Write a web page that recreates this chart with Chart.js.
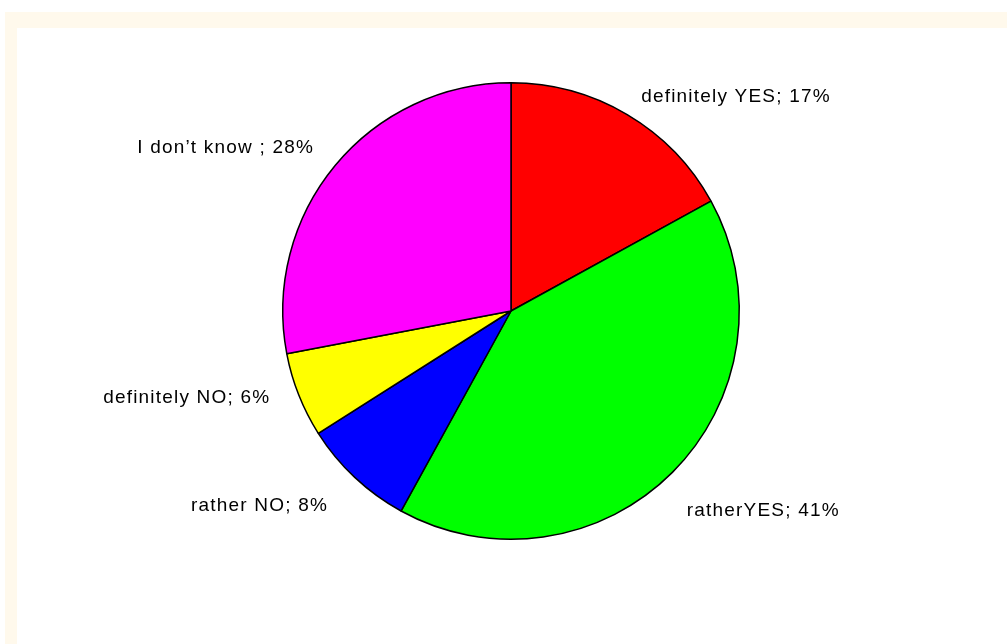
<!DOCTYPE html>
<html>
<head>
<meta charset="utf-8">
<title>Survey answers</title>
<script src="https://cdn.jsdelivr.net/npm/chart.js@4/dist/chart.umd.min.js"></script>
<style>
  html, body { margin: 0; padding: 0; background: #fff; }
  #frame {
    position: absolute; left: 5px; top: 12px; right: 0; bottom: 0;
    background: #fff9ec;
  }
  #inner {
    position: absolute; left: 12px; top: 16px; right: 0; bottom: 0;
    background: #fff;
  }
  #pieChart { position: absolute; left: 0; top: 0; }
</style>
</head>
<body>
<div id="frame"><div id="inner"></div></div>
<canvas id="pieChart" width="1007" height="644"></canvas>
<script>
// Answers and their shares (percent)
const answers = ['definitely YES', 'ratherYES', 'rather NO', 'definitely NO', 'I don\u2019t know '];
const shares = [17, 41, 8, 6, 28];
const sliceColors = ['#ff0000', '#00ff00', '#0000ff', '#ffff00', '#ff00ff'];

// small nudges for each label, in px
const labelNudge = [[0, 6], [-5, 19], [-8, 8], [-3, -7], [0, 0]];

// Outside labels "name; NN%"
const outsideLabels = {
  id: 'outsideLabels',
  afterDatasetsDraw(chart) {
    const ctx = chart.ctx;
    const arcs = chart.getDatasetMeta(0).data;
    ctx.save();
    ctx.font = '19px "Liberation Sans", Arial, sans-serif';
    ctx.letterSpacing = '1.2px';
    ctx.fillStyle = '#000';
    ctx.textBaseline = 'middle';
    arcs.forEach((arc, i) => {
      const p = arc.getProps(['x', 'y', 'startAngle', 'endAngle', 'outerRadius']);
      const mid = (p.startAngle + p.endAngle) / 2;
      const r = p.outerRadius * 1.12;
      const x = p.x + Math.cos(mid) * r + labelNudge[i][0];
      const y = p.y + Math.sin(mid) * r + labelNudge[i][1];
      ctx.textAlign = Math.cos(mid) >= 0 ? 'left' : 'right';
      ctx.fillText(answers[i] + '; ' + shares[i] + '%', x, y);
    });
    ctx.restore();
  }
};

const ctx = document.getElementById('pieChart').getContext('2d');
const pieChart = new Chart(ctx, {
  type: 'pie',
  data: {
    labels: answers,
    datasets: [{
      data: shares,
      backgroundColor: sliceColors,
      borderColor: '#000',
      borderWidth: 1.5
    }]
  },
  options: {
    responsive: false,
    animation: false,
    layout: { padding: { left: 282, right: 267, top: 82, bottom: 104 } },
    plugins: {
      legend: { display: false },
      tooltip: { enabled: false }
    }
  },
  plugins: [outsideLabels]
});
</script>
</body>
</html>
